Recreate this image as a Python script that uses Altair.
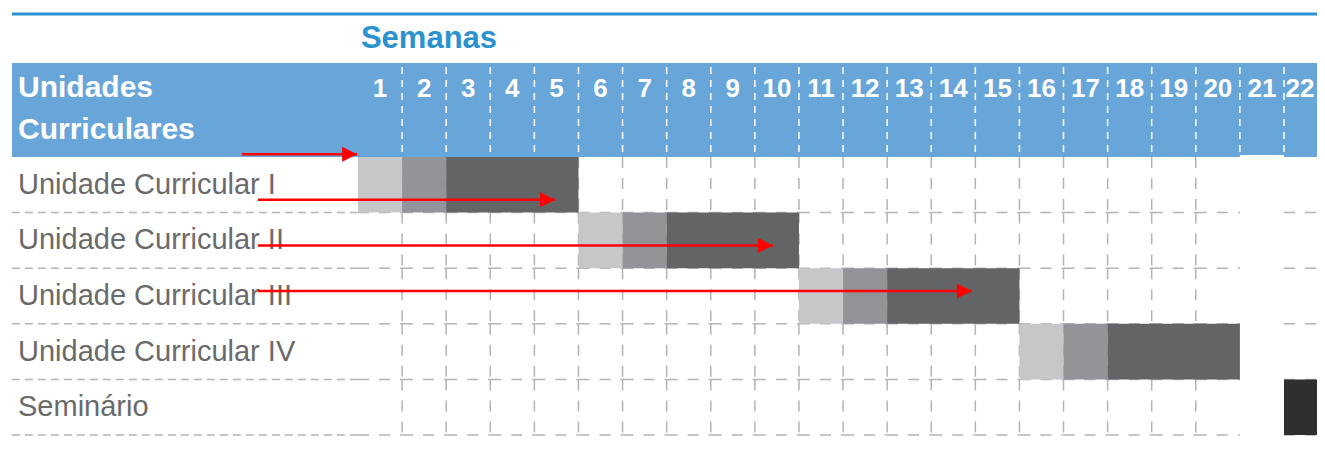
import altair as alt
import pandas as pd

# ---------------- data ----------------
weeks = list(range(1, 23))
units = ["Unidade Curricular I", "Unidade Curricular II", "Unidade Curricular III",
         "Unidade Curricular IV", "Seminário"]

# bars: row index, first week, last week, phase
bar_unit = [0, 0, 0, 1, 1, 1, 2, 2, 2, 3, 3, 3, 4]
bar_first = [1, 2, 3, 6, 7, 8, 11, 12, 13, 16, 17, 18, 22]
bar_last = [1, 2, 5, 6, 7, 10, 11, 12, 15, 16, 17, 20, 22]
bar_phase = ["a", "b", "c", "a", "b", "c", "a", "b", "c", "a", "b", "c", "s"]
phase_names = ["a", "b", "c", "s"]
phase_colors = ["#c6c7c9", "#939497", "#636466", "#2f2f30"]

# red arrows (row position, from, to in week units)
arrow_row = [-0.05, 0.77, 1.59, 2.41]
arrow_from = [-2.63, -2.27, -2.27, -2.27]
arrow_to = [-0.02, 4.47, 9.41, 13.92]

grid_weeks = [w for w in weeks if w != 21]   # columns with a dashed body grid
body_vlines = list(range(1, 20))             # vertical boundaries in the body
header_vlines = list(range(1, 22))           # white dashed boundaries in the header
LABEL_START = -7.85                          # left edge of the label column (weeks units)
LAST_VISIBLE = 21.72                         # right edge of the visible area (weeks units)

# ---------------- tables ----------------
bars = pd.DataFrame({
    "r0": bar_unit,
    "r1": [u + 1 for u in bar_unit],
    "x0": [f - 1 for f in bar_first],
    "x1": bar_last,
    "phase": bar_phase,
})
arrows = pd.DataFrame({"r": arrow_row, "x0": arrow_from, "x1": arrow_to})
labels = pd.DataFrame({"name": units, "rc": [i + 0.5 for i in range(len(units))]})
# centre of each week column (the last column is only partly visible)
wk = pd.DataFrame({"w": [str(w) for w in weeks],
                   "xc": [min(w - 0.5, (w - 1 + LAST_VISIBLE) / 2) for w in weeks]})
vseg = pd.DataFrame([(b, r, r + 1) for b in body_vlines for r in range(5)],
                    columns=["b", "r0", "r1"])
hseg = pd.DataFrame([(w - 1, w, r) for r in range(1, 6) for w in grid_weeks],
                    columns=["x0", "x1", "r"])
hlab = pd.DataFrame({"x0": [LABEL_START] * 5, "x1": [0] * 5, "r": list(range(1, 6))})
hv = pd.DataFrame({"b": header_vlines})

W = 1309
XS = alt.Scale(domain=[0, 21], range=[350, 350 + 21 * 44.095], nice=False, zero=False)
YS = alt.Scale(domain=[0, 5], range=[149, 427], nice=False, zero=False)
FONT = "Liberation Sans"
BLUE_BAND = "#68a6d9"
BLUE_TEXT = "#2b92d0"
GRID = "#b4b4b4"


def X(f):
    return alt.X(f, type="quantitative", scale=XS, axis=None)


def Y(f):
    return alt.Y(f, type="quantitative", scale=YS, axis=None)


one = pd.DataFrame({"k": [0]})

top_line = alt.Chart(one).mark_rule(color=BLUE_TEXT, strokeWidth=3).encode(
    x=alt.value(4), x2=alt.value(W), y=alt.value(6))

band = alt.Chart(one).mark_rect(color=BLUE_BAND).encode(
    x=alt.value(4), x2=alt.value(W), y=alt.value(55), y2=alt.value(149))

notch = alt.Chart(pd.DataFrame({"x0": [20], "x1": [21]})).mark_rect(color="white").encode(
    x=X("x0"), x2="x1", y=alt.value(147), y2=alt.value(149))

head_lines = alt.Chart(hv).mark_rule(color="white", strokeWidth=1.5, strokeDash=[7, 6]).encode(
    x=X("b"), y=alt.value(59), y2=alt.value(149))

vgrid = alt.Chart(vseg).mark_rule(color=GRID, strokeWidth=1.5, strokeDash=[11, 10]).encode(
    x=X("b"), y=Y("r0"), y2="r1")

hgrid = alt.Chart(hseg).mark_rule(color=GRID, strokeWidth=1.5, strokeDash=[11, 10]).encode(
    x=X("x0"), x2="x1", y=Y("r"))

hgrid_lab = alt.Chart(hlab).mark_rule(color=GRID, strokeWidth=1.5, strokeDash=[8, 5]).encode(
    x=X("x0"), x2="x1", y=Y("r"))

bar_layer = alt.Chart(bars).mark_rect().encode(
    x=X("x0"), x2="x1", y=Y("r0"), y2="r1",
    color=alt.Color("phase:N", scale=alt.Scale(domain=phase_names, range=phase_colors),
                    legend=None))

semanas = alt.Chart(pd.DataFrame({"t": ["Semanas"]})).mark_text(
    font=FONT, fontSize=31, fontWeight="bold", color=BLUE_TEXT, align="center",
    baseline="middle").encode(text="t:N", x=alt.value(421), y=alt.value(31))

uc1 = alt.Chart(pd.DataFrame({"t": ["Unidades"]})).mark_text(
    font=FONT, fontSize=30, fontWeight="bold", color="white", align="left",
    baseline="middle").encode(text="t:N", x=alt.value(10), y=alt.value(80))

uc2 = alt.Chart(pd.DataFrame({"t": ["Curriculares"]})).mark_text(
    font=FONT, fontSize=30, fontWeight="bold", color="white", align="left",
    baseline="middle").encode(text="t:N", x=alt.value(10), y=alt.value(122))

week_txt = alt.Chart(wk).mark_text(
    font=FONT, fontSize=26, fontWeight="bold", color="white", align="center",
    baseline="middle").encode(text="w:N", x=X("xc"), y=alt.value(81))

row_txt = alt.Chart(labels).mark_text(
    font=FONT, fontSize=29, color="#6a6a6a", align="left", baseline="middle").encode(
    text="name:N", x=alt.value(10), y=Y("rc"))

arrow_lines = alt.Chart(arrows).mark_rule(color="#ff0000", strokeWidth=2.5).encode(
    x=X("x0"), x2="x1", y=Y("r"))

arrow_heads = alt.Chart(arrows).mark_point(
    shape="M-2,-1L0,0L-2,1Z", filled=True, size=225, color="#ff0000", opacity=1,
    strokeWidth=0).encode(x=X("x1"), y=Y("r"))

chart = alt.layer(
    top_line, band, notch, head_lines, vgrid, hgrid, hgrid_lab, bar_layer,
    semanas, uc1, uc2, week_txt, row_txt, arrow_lines, arrow_heads
).properties(
    width=W, height=442, padding=0,
    autosize=alt.AutoSizeParams(type="none"),
).configure_view(stroke=None)

chart.save("out.html", embed_options={"renderer": "svg", "actions": False})
